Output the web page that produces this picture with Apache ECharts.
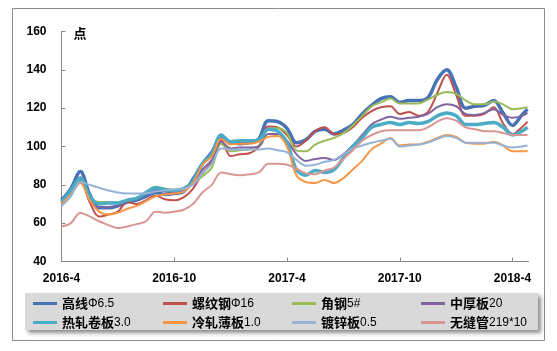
<!DOCTYPE html>
<html><head><meta charset="utf-8">
<script src="https://cdn.jsdelivr.net/npm/echarts@6/dist/echarts.min.js"></script>
<style>html,body{margin:0;padding:0;background:#fff}#c{width:557px;height:351px}</style>
</head><body><div id="c"></div>
<script>
// month index from 2016-4 (0) in half-month steps
const months = [0,0.5,1,1.5,2,2.5,3,3.5,4,4.5,5,5.5,6,6.5,7,7.5,8,8.5,9,9.5,10,10.5,11,11.5,12,12.5,13,13.5,14,14.5,15,15.5,16,16.5,17,17.5,18,18.5,19,19.5,20,20.5,21,21.5,22,22.5,23,23.5,24,24.5,24.8];
const xTickLabels = ['2016-4','2016-10','2017-4','2017-10','2018-4'];
const xTickValues = [0,6,12,18,24];
const yTicks = [40,60,80,100,120,140,160];

const legendCn = ['高线','螺纹钢','角钢','中厚板','热轧卷板','冷轧薄板','镀锌板','无缝管'];
const legendSpec = ['Φ6.5','Φ16','5#','20','3.0','1.0','0.5','219*10'];

const gaoxian   = [72,78,87,75,68,68,69,71,72,74,76,75,75.5,76.5,83,91,97,105,102,101.5,102,104,113.5,113,109.5,102,103.5,108,109,106.5,108.5,111.5,117,121.5,125,126,123,124,124,125.5,135,140,131,120,121,121.5,124,117.5,111,116.5,119.5];
const luowengang= [70.5,76,82,71,63.5,64.5,66,71,70,72,74.5,72.5,72,73.5,78,86,92,103.5,95,96,96.5,100,110.5,110,106,100,103,108,110,106.5,107,110,115,118.5,120.5,121,117,118,116,118,128,137.5,127,116,116,117,120.5,112,106.5,110,113];
const jiaogang  = [71,76,83,74,71,71,70.5,72,73,76,79,78,77.5,78,81,84.5,89,101.5,97.5,98,98.5,100.5,109,109.5,107,98,97.5,101,103,104.5,107,111,116,121,123,125,122.5,122.5,122.5,124.5,127,128.5,127.5,124,122,122,123.5,122,119.5,120,120.5];
const zhonghouban=[71,76,84,73,68,68.5,69,71.5,72.5,75,77.5,76.5,76,77,81,88,93,102.5,99,99.5,99.5,100,106.5,106.5,103,96,92.5,93.5,94,93,96,100.5,106,111.5,114,115.5,114.5,115,115.5,117,120.5,122,121,117,116.5,117.5,119.5,116.5,115,116,117.5];
const rezha     = [71,77,83.5,74,70,70.5,70.5,72,73,76,78.5,77.5,77,78,82,91,96,106,102.5,103,103,103.5,109,108,102,88,85,87.5,86.5,88,94,100,104.5,110,111.5,112.5,111.5,112.5,112,113,116,117.5,116,111.5,111.5,112,112.5,110,106,108,110];
const lengzha   = [70,75,81,72,66,64.5,65.5,67.5,69,71.5,74,75,75.5,76.5,81,90.5,95,104,101,101.5,101.5,102.5,105,105.5,100,85,81.5,81,82.5,81,83.5,88,92.5,98.5,101.5,104.5,100.5,101,101,102.5,104.5,106,105,102,101.5,101.5,102.5,100.5,97.5,97.5,97.7];
const duxin     = [69,74,81.5,80,78.5,77,76,75.5,75.5,75.5,76.5,77,77.5,78,80,86,91,99,98.5,98.5,98.5,98.5,99,98,97,93,90,90.5,92,93,96,99,100.5,102,103,104,100,100.5,101,102,104,105.5,104.5,102,102,102,102,100.5,99.5,100,100.5];
const wufeng    = [58.3,60,65.5,63.5,61,59,57.5,58.3,59.5,61,66,65.5,66,67,70,76,80,86.5,85.5,85,85.5,86.5,91,91,90.5,88.5,86,85.5,87.5,89,93.5,98,103,106,108,108.5,108.5,108.5,108.5,110,113,114.8,113.5,110,109,108,108,107,106,106,106];

const allData = [gaoxian,luowengang,jiaogang,zhonghouban,rezha,lengzha,duxin,wufeng];
const colors = ['#4673B5','#C0504D','#9BBB59','#8064A2','#4BACC6','#F79646','#95B3D7','#D99694'];
const widths = [3.5,2,2,2,3.5,2,2,2];
const names = legendCn.map((c,i)=>c+legendSpec[i]);

const series = allData.map((arr,i)=>({
  name: names[i], type:'line', smooth:0.35, showSymbol:false, symbol:'none',
  data: arr.map((v,j)=>[months[j], v]),
  lineStyle:{color:colors[i], width:widths[i]}, itemStyle:{color:colors[i]},
  emphasis:{disabled:true}, animation:false
}));

const legendCols = [33, 163, 292, 421];
const legends = legendCols.map((left,k)=>({
  orient:'vertical', align:'left', left:left, top:297, itemGap:6,
  icon:'rect', itemWidth:24, itemHeight:3, padding:0,
  data:[names[k], names[k+4]],
  selectedMode:false,
  formatter: n => { const i = names.indexOf(n); return '{a|'+legendCn[i]+'}{b|'+legendSpec[i]+'}'; },
  textStyle:{ rich:{
    a:{fontFamily:'Noto Sans CJK SC', fontWeight:'bold', fontSize:13, color:'#000'},
    b:{fontFamily:'Liberation Sans', fontSize:12, color:'#000'}
  }}
}));

const chart = echarts.init(document.getElementById('c'), null, {renderer:'canvas'});
chart.setOption({
  animation:false,
  backgroundColor:'#fff',
  grid:{left:61.5, right:28.5, top:31.5, bottom:89.5, containLabel:false},
  graphic:[
    {type:'rect', shape:{x:12.5,y:8.5,width:532,height:332}, style:{fill:'none', stroke:'#8a8a8a', lineWidth:1}, z:-10},
    {type:'rect', shape:{x:25,y:293,width:513,height:37}, style:{fill:'#D9D9D9', shadowBlur:4, shadowOffsetX:3, shadowOffsetY:3, shadowColor:'rgba(0,0,0,0.45)'}, z:-5}
  ],
  legend: legends,
  xAxis:{
    type:'value', min:0, max:24.85,
    splitLine:{show:false},
    axisLine:{lineStyle:{color:'#868686', width:1}},
    axisTick:{inside:true, length:4, customValues:xTickValues, lineStyle:{color:'#868686'}},
    axisLabel:{customValues:xTickValues, formatter: v => xTickLabels[xTickValues.indexOf(v)] || '',
      color:'#000', fontSize:12, fontFamily:'Liberation Sans', fontWeight:'bold', margin:11}
  },
  yAxis:{
    type:'value', min:40, max:160, interval:20,
    name:'点', nameLocation:'end', nameGap:-2,
    nameTextStyle:{fontFamily:'Noto Sans CJK SC', fontWeight:'bold', fontSize:13, color:'#000', align:'left', verticalAlign:'middle', padding:[0,0,0,12]},
    splitLine:{show:false},
    axisLine:{show:true, lineStyle:{color:'#868686', width:1}},
    axisTick:{show:true, inside:true, length:4, lineStyle:{color:'#868686'}},
    axisLabel:{color:'#000', fontSize:12, fontFamily:'Liberation Sans', fontWeight:'bold', margin:15}
  },
  series: series
});
</script></body></html>
